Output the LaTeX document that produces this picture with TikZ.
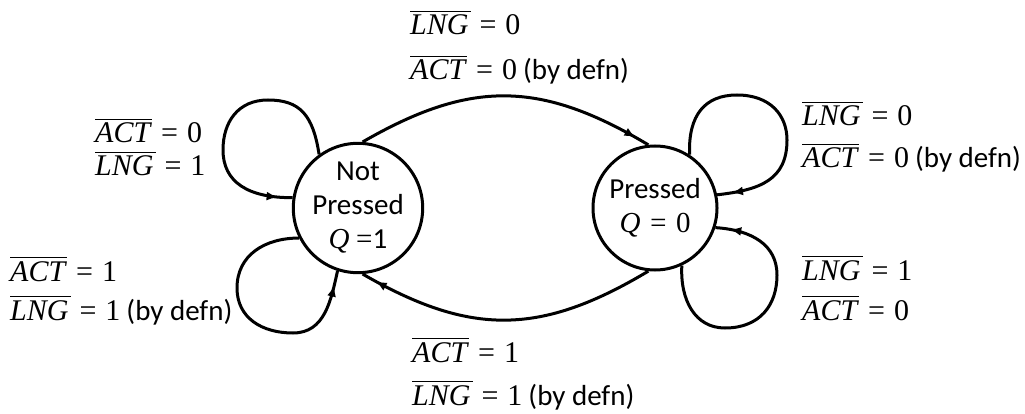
\documentclass[tikz,border=0pt]{standalone}
\usepackage{fontspec}
\setmainfont{Carlito}
\newfontfamily\mathserif{Liberation Serif}
\newcommand{\olv}[1]{\leavevmode\vbox{\hrule height 1.5pt\kern3pt\hbox{\fontsize{30}{30}\selectfont\mathserif\itshape #1\kern2pt}}}
\newcommand{\meq}[1]{{\fontsize{30}{30}\selectfont\mathserif\hspace{9pt}=\hspace{9pt}#1}}
\newcommand{\defn}{\hspace{6pt}(by defn)}
\usetikzlibrary{arrows.meta,decorations.markings}
\tikzset{
  stnode/.style={circle,draw,line width=3pt,minimum size=124pt,inner sep=0pt,align=center,font=\fontsize{29}{34}\selectfont},
  lbl/.style={anchor=base west,inner sep=0pt,font=\fontsize{29}{30}\selectfont},
  trans/.style={line width=3pt,postaction={decorate},
    decoration={markings,mark=at position -15pt with {\arrow{Latex[length=11pt,width=9pt]}}}},
}
\begin{document}
\begin{tikzpicture}[x=1pt,y=-1pt]
\useasboundingbox (0,0) rectangle (1025,414);
\node[stnode] (np) at (358,208) {Not\\Pressed\\{\mathserif\itshape Q} {\mathserif =}1};
\node[stnode] (p) at (655,208) {Pressed\\{\mathserif\itshape Q\hspace{8pt}=\hspace{8pt}\upshape 0}};
% transitions between states
\draw[trans] (np.86) .. controls (470,80) and (540,80) .. (p.96);
\draw[trans] (p.264) .. controls (540,336) and (470,336) .. (np.274);
% self loops of Not Pressed
\draw[trans] (np.126) .. controls (313,115) and (300,100) .. (268,100)
  .. controls (238,100) and (223,122) .. (223,150)
  .. controls (223,182) and (248,198) .. (np.171);
\draw[trans] (np.207) .. controls (265,238) and (237,255) .. (237,288)
  .. controls (237,318) and (262,333) .. (293,333)
  .. controls (325,333) and (331,300) .. (np.252);
% self loops of Pressed
\draw[trans] (p.57) .. controls (688,115) and (705,95) .. (737,95)
  .. controls (770,95) and (787,115) .. (787,140)
  .. controls (787,180) and (760,190) .. (p.12);
\draw[trans] (p.295) .. controls (680,300) and (695,328) .. (725,328)
  .. controls (760,328) and (777,305) .. (777,275)
  .. controls (777,245) and (752,230) .. (p.342);
% labels
\node[lbl] (t1) at (410,35) {\olv{LNG}\meq{0}};
\node[lbl] (t2) at (410,80) {\olv{ACT}\meq{0}\defn};
\node[lbl] (lt1) at (95,143) {\olv{ACT}\meq{0}};
\node[lbl] (lt2) at (95,176) {\olv{LNG}\meq{1}};
\node[lbl] (lb1) at (10,281) {\olv{ACT}\meq{1}};
\node[lbl] (lb2) at (10,320) {\olv{LNG}\meq{1}\defn};
\node[lbl] (rt1) at (802,126) {\olv{LNG}\meq{0}};
\node[lbl] (rt2) at (802,168) {\olv{ACT}\meq{0}\defn};
\node[lbl] (rb1) at (802,280) {\olv{LNG}\meq{1}};
\node[lbl] (rb2) at (802,320) {\olv{ACT}\meq{0}};
\node[lbl] (b1) at (412,362) {\olv{ACT}\meq{1}};
\node[lbl] (b2) at (412,405) {\olv{LNG}\meq{1}\defn};
\end{tikzpicture}
\end{document}
